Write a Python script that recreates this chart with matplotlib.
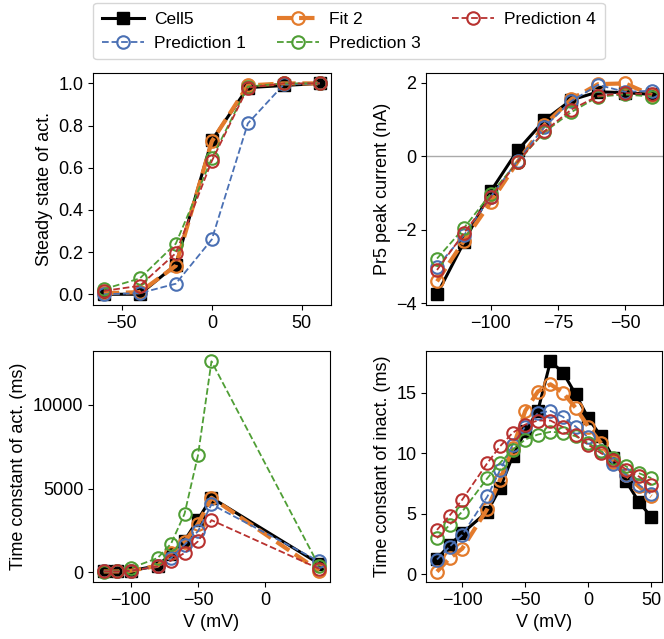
import matplotlib
matplotlib.use("Agg")
import matplotlib.pyplot as plt
from matplotlib.lines import Line2D

plt.rcParams['font.family'] = ['Liberation Sans', 'DejaVu Sans']
plt.rcParams['font.size'] = 13

# Series styling
names = ["Cell5", "Fit 2", "Prediction 1", "Prediction 3", "Prediction 4"]
colors = {"Cell5": "black", "Fit 2": "#e37b2c", "Prediction 1": "#4a70b4",
          "Prediction 3": "#4f9e35", "Prediction 4": "#b8312f"}

# Steady state of activation
v_act = [-60, -40, -20, 0, 20, 40, 60]
ss_cell5 = [0.0, 0.0, 0.14, 0.73, 0.98, 0.99, 1.0]
ss_fit2 = [0.005, 0.01, 0.135, 0.725, 0.99, 1.0, 1.0]
ss_pred1 = [0.0, 0.005, 0.05, 0.26, 0.81, 0.995, 1.0]
ss_pred3 = [0.024, 0.075, 0.24, 0.645, 0.985, 1.0, 1.0]
ss_pred4 = [0.016, 0.04, 0.195, 0.632, 0.98, 1.0, 1.0]

# Peak current
v_iv = [-120, -110, -100, -90, -80, -70, -60, -50, -40]
iv_cell5 = [-3.75, -2.34, -0.95, 0.16, 0.98, 1.53, 1.75, 1.73, 1.68]
iv_fit2 = [-3.4, -2.3, -1.25, -0.15, 0.85, 1.55, 1.96, 1.98, 1.66]
iv_pred1 = [-3.0, -2.15, -1.1, -0.12, 0.8, 1.5, 1.94, 1.75, 1.78]
iv_pred3 = [-2.78, -1.95, -1.02, -0.15, 0.66, 1.2, 1.62, 1.68, 1.62]
iv_pred4 = [-3.09, -2.09, -1.11, -0.15, 0.68, 1.27, 1.64, 1.72, 1.68]

# Time constant of activation
v_tact = [-120, -110, -100, -80, -70, -60, -50, -40, 40]
tact_cell5 = [60, 60, 100, 400, 1100, 1900, 3160, 4460, 520]
tact_fit2 = [60, 60, 100, 400, 1160, 1820, 2900, 4460, 100]
tact_pred1 = [60, 60, 100, 360, 860, 1660, 2460, 4060, 660]
tact_pred3 = [50, 80, 260, 860, 1720, 3500, 7000, 12600, 360]
tact_pred4 = [60, 60, 100, 360, 700, 1160, 1860, 3120, 220]

# Time constant of inactivation
v_tinact = [-120, -110, -100, -80, -70, -60, -50, -40, -30, -20, -10, 0, 10, 20, 30, 40, 50]
tinact_cell5 = [1.27, 2.4, 3.37, 5.17, 7.1, 9.74, 11.8, 13.5, 17.6, 16.66, 14.87, 12.9, 11.4, 9.6, 7.67, 6.0, 4.7]
tinact_fit2 = [0.2, 1.3, 2.1, 5.4, 7.8, 10.4, 13.5, 15.1, 15.7, 15.0, 13.75, 12.2, 10.85, 9.3, 8.2, 7.25, 6.42]
tinact_pred1 = [1.2, 2.27, 3.24, 6.42, 8.6, 10.7, 12.2, 13.3, 13.5, 13.0, 12.2, 11.3, 10.2, 9.1, 8.2, 7.4, 6.6]
tinact_pred3 = [2.96, 4.07, 5.17, 7.94, 9.19, 10.3, 11.13, 11.54, 11.76, 11.7, 11.4, 10.85, 10.16, 9.6, 8.9, 8.35, 7.94]
tinact_pred4 = [3.65, 4.84, 6.15, 9.19, 10.57, 11.68, 12.37, 12.7, 12.7, 12.15, 11.5, 10.7, 10.0, 9.47, 8.63, 8.08, 7.4]


def draw(ax, name, x, y):
    if name == "Cell5":
        ax.plot(x, y, color="black", lw=2.2, marker="s", ms=8, zorder=3)
    elif name == "Fit 2":
        ax.plot(x, y, color=colors[name], lw=3, ls="--", marker="o", ms=9,
                mfc="none", mew=1.6, zorder=4)
    else:
        ax.plot(x, y, color=colors[name], lw=1.3, ls="--", marker="o", ms=9,
                mfc="none", mew=1.5, zorder=5)


fig = plt.figure(figsize=(6.64, 6.39), dpi=100)
ax1 = fig.add_axes([0.140, 0.523, 0.358, 0.363])
ax2 = fig.add_axes([0.642, 0.523, 0.356, 0.363])
ax3 = fig.add_axes([0.140, 0.089, 0.357, 0.362])
ax4 = fig.add_axes([0.642, 0.089, 0.355, 0.362])

panels = [
    (ax1, v_act, [ss_cell5, ss_fit2, ss_pred1, ss_pred3, ss_pred4]),
    (ax2, v_iv, [iv_cell5, iv_fit2, iv_pred1, iv_pred3, iv_pred4]),
    (ax3, v_tact, [tact_cell5, tact_fit2, tact_pred1, tact_pred3, tact_pred4]),
    (ax4, v_tinact, [tinact_cell5, tinact_fit2, tinact_pred1, tinact_pred3, tinact_pred4]),
]
for ax, x, series in panels:
    for name, y in zip(names, series):
        draw(ax, name, x, y)

ax2.axhline(0, color="#aaaaaa", lw=1, zorder=1)

ax1.set_ylabel("Steady state of act.")
ax2.set_ylabel("Pr5 peak current (nA)")
ax3.set_ylabel("Time constant of act. (ms)")
ax4.set_ylabel("Time constant of inact. (ms)")
ax3.set_xlabel("V (mV)")
ax4.set_xlabel("V (mV)")

ax1.set_xticks([-50, 0, 50])
ax2.set_xticks([-100, -75, -50])
ax3.set_xticks([-100, -50, 0])
ax4.set_xticks([-100, -50, 0, 50])
ax3.set_yticks([0, 5000, 10000])

# Legend at the top, starting at the left panel edge
handles = [
    Line2D([], [], color="black", lw=2.2, marker="s", ms=8),
    Line2D([], [], color=colors["Prediction 1"], lw=1.3, ls="--", marker="o", ms=9, mfc="none", mew=1.5),
    Line2D([], [], color=colors["Fit 2"], lw=3, ls="--", marker="o", ms=9, mfc="none", mew=1.6),
    Line2D([], [], color=colors["Prediction 3"], lw=1.3, ls="--", marker="o", ms=9, mfc="none", mew=1.5),
    Line2D([], [], color=colors["Prediction 4"], lw=1.3, ls="--", marker="o", ms=9, mfc="none", mew=1.5),
]
labels = ["Cell5", "Prediction 1", "Fit 2", "Prediction 3", "Prediction 4"]
fig.legend(handles, labels, ncol=3, loc="upper left",
           bbox_to_anchor=(0.138, 0.998), borderaxespad=0.1,
           fontsize=12.5, handlelength=2.4, handletextpad=0.6, columnspacing=1.8,
           borderpad=0.5, labelspacing=0.5)

fig.savefig("out.png", dpi=100)
